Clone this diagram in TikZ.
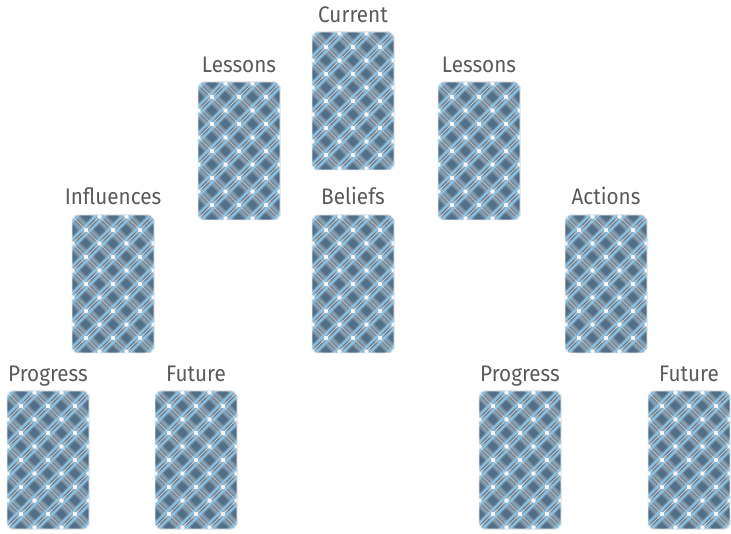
\documentclass[tikz,border=0pt]{standalone}
\usepackage{fontspec}
\setmainfont{Fira Sans}[FakeStretch=0.92]
\definecolor{cardbase}{HTML}{4F6F8B}
\definecolor{cardgrey}{HTML}{A2A2A2}
\definecolor{cardblue}{HTML}{8CC6EA}
\definecolor{lblgrey}{HTML}{5A5A5A}
\tikzset{
  plaid/.style={
    path picture={
      \begin{scope}[shift={(path picture bounding box.center)}]
        \foreach \i in {-189,-162,...,189}{
          \draw[cardgrey, opacity=0.5, line width=12pt] (\i-80,-80) -- (\i+80,80);
          \draw[cardgrey, opacity=0.3, line width=12pt] (\i-80,80) -- (\i+80,-80);
        }
        \foreach \i in {-189,-162,...,189}{
          \foreach \o in {-4.5,4.5}{
            \draw[cardblue, opacity=0.45, line width=2pt] (\i+\o-80,-80) -- (\i+\o+80,80);
            \draw[cardblue, opacity=0.9, line width=2.4pt] (\i+\o-80,80) -- (\i+\o+80,-80);
          }
          \draw[white, opacity=0.45, line width=1pt] (\i-80,-80) -- (\i+80,80);
          \draw[white, opacity=0.6, line width=1pt] (\i-80,80) -- (\i+80,-80);
        }
        \foreach \a in {-2,...,2}{
          \foreach \b in {-3,...,3}{
            \fill[white, opacity=0.9] (27*\a,27*\b) circle[radius=2.3pt];
            \fill[white, opacity=0.9] (27*\a+13.5,27*\b+13.5) circle[radius=2.3pt];
          }
        }
      \end{scope}
    }
  },
  card/.style={rectangle, rounded corners=5pt, fill=cardbase, draw=white!85!gray,
    line width=0.6pt, minimum width=82pt, minimum height=138pt, inner sep=0pt, plaid},
  lbl/.style={anchor=base, text=lblgrey, font=\fontsize{22.5}{25}\selectfont, inner sep=0pt}
}
\begin{document}
\begin{tikzpicture}[x=1pt, y=-1pt]
\useasboundingbox (0,0) rectangle (731,534);
\node[card] (cur)  at (353,101) {};
\node[card] (lesL) at (239,151) {};
\node[card] (lesR) at (479,151) {};
\node[card] (inf)  at (113,284) {};
\node[card] (bel)  at (353,284) {};
\node[card] (act)  at (606,284) {};
\node[card] (proL) at (48,460) {};
\node[card] (futL) at (196,460) {};
\node[card] (proR) at (520,460) {};
\node[card] (futR) at (689,460) {};
\node[lbl] (curT)  at ([yshift=9pt]cur.north)  {Current};
\node[lbl] (lesLT) at ([yshift=9pt]lesL.north) {Lessons};
\node[lbl] (lesRT) at ([yshift=9pt]lesR.north) {Lessons};
\node[lbl] (infT)  at ([yshift=10pt]inf.north) {Influences};
\node[lbl] (belT)  at ([yshift=10pt]bel.north) {Beliefs};
\node[lbl] (actT)  at ([yshift=10pt]act.north) {Actions};
\node[lbl] (proLT) at ([yshift=9pt]proL.north) {Progress};
\node[lbl] (futLT) at ([yshift=9pt]futL.north) {Future};
\node[lbl] (proRT) at ([yshift=9pt]proR.north) {Progress};
\node[lbl] (futRT) at ([yshift=9pt]futR.north) {Future};
\end{tikzpicture}
\end{document}
